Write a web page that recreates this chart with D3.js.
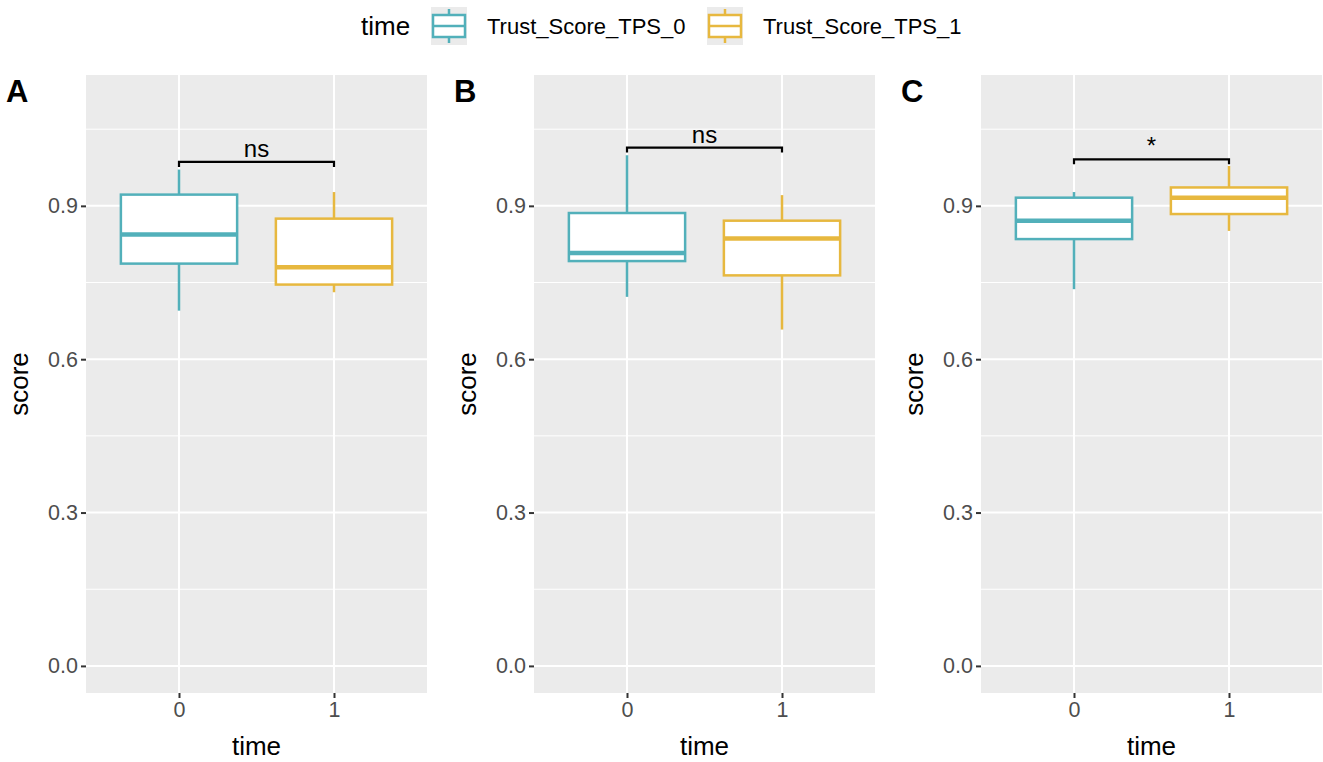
<!DOCTYPE html>
<html>
<head>
<meta charset="utf-8">
<script src="https://cdn.jsdelivr.net/npm/d3@7"></script>
<style>
  body { margin: 0; background: #fff; }
  svg { font-family: "Liberation Sans", Arial, sans-serif; }
</style>
</head>
<body>
<div id="chartContainer"></div>
<script>
// data, one row per panel, [time 0, time 1]
var panels = ['A', 'B', 'C']
var times = ['0', '1']
var seriesNames = ['Trust_Score_TPS_0', 'Trust_Score_TPS_1']
var lowerWhisker = [[0.695, 0.731], [0.722, 0.658], [0.737, 0.851]]
var q1 = [[0.787, 0.746], [0.792, 0.764], [0.835, 0.884]]
var medians = [[0.844, 0.780], [0.808, 0.836], [0.871, 0.916]]
var q3 = [[0.922, 0.875], [0.886, 0.871], [0.916, 0.936]]
var upperWhisker = [[0.971, 0.927], [0.999, 0.921], [0.927, 0.978]]
var sigLabels = ['ns', 'ns', '*']
var bracketY = [0.986, 1.014, 0.991]
var yTicks = [0, 0.3, 0.6, 0.9]
var yMinor = [0.15, 0.45, 0.75, 1.05]

var colors = ['#52b0ba', '#e7b83f']

var width = 1323, height = 762
var svg = d3.select('#chartContainer').append('svg')
    .attr('width', width)
    .attr('height', height)

// plot area for each panel
var panelLeft = [86, 534, 981]
var panelWidth = 341
var plotTop = 75, plotBottom = 693

var yScale = d3.scaleLinear()
    .domain([-0.053, 1.156])
    .range([plotBottom, plotTop])

panels.forEach(function(p, i) {
    var g = svg.append('g').attr('transform', 'translate(' + panelLeft[i] + ',0)')

    var xScale = d3.scalePoint()
        .domain(times)
        .range([0, panelWidth])
        .padding(0.6)
    var boxW = xScale.step() * 0.75

    g.append('rect')
        .attr('x', 0).attr('y', plotTop)
        .attr('width', panelWidth).attr('height', plotBottom - plotTop)
        .attr('fill', '#ebebeb')

    // grid
    g.selectAll('.minor').data(yMinor).enter().append('line')
        .attr('x1', 0).attr('x2', panelWidth)
        .attr('y1', function(d) { return yScale(d) })
        .attr('y2', function(d) { return yScale(d) })
        .attr('stroke', '#fff').attr('stroke-width', 1)
    g.selectAll('.major').data(yTicks).enter().append('line')
        .attr('x1', 0).attr('x2', panelWidth)
        .attr('y1', function(d) { return yScale(d) })
        .attr('y2', function(d) { return yScale(d) })
        .attr('stroke', '#fff').attr('stroke-width', 2)
    g.selectAll('.vgrid').data(times).enter().append('line')
        .attr('x1', function(d) { return xScale(d) })
        .attr('x2', function(d) { return xScale(d) })
        .attr('y1', plotTop).attr('y2', plotBottom)
        .attr('stroke', '#fff').attr('stroke-width', 2)

    // axes
    var yAxis = g.append('g')
        .call(d3.axisLeft(yScale).tickValues(yTicks).tickFormat(d3.format('.1f')).tickSize(5).tickPadding(3))
    var xAxis = g.append('g').attr('transform', 'translate(0,' + plotBottom + ')')
        .call(d3.axisBottom(xScale).tickSize(5).tickPadding(4))
    ;[yAxis, xAxis].forEach(function(a) {
        a.select('.domain').remove()
        a.selectAll('line').attr('stroke', '#333').attr('stroke-width', 2)
        a.selectAll('text').attr('fill', '#4d4d4d').style('font-size', '21.5px')
    })

    g.append('text')
        .attr('x', panelWidth / 2).attr('y', 755)
        .attr('text-anchor', 'middle')
        .style('font-size', '26px')
        .text('time')
    g.append('text')
        .attr('transform', 'translate(' + (-58) + ',' + ((plotTop + plotBottom) / 2) + ') rotate(-90)')
        .attr('text-anchor', 'middle')
        .style('font-size', '26px')
        .text('score')

    // panel tag
    svg.append('text')
        .attr('x', panelLeft[i] - 80).attr('y', 102)
        .style('font-size', '31px').style('font-weight', 'bold')
        .text(p)

    // boxplots
    times.forEach(function(t, j) {
        var cx = xScale(t)
        var col = colors[j]
        g.append('line')
            .attr('x1', cx).attr('x2', cx)
            .attr('y1', yScale(upperWhisker[i][j])).attr('y2', yScale(q3[i][j]))
            .attr('stroke', col).attr('stroke-width', 2.5)
        g.append('line')
            .attr('x1', cx).attr('x2', cx)
            .attr('y1', yScale(q1[i][j])).attr('y2', yScale(lowerWhisker[i][j]))
            .attr('stroke', col).attr('stroke-width', 2.5)
        g.append('rect')
            .attr('x', cx - boxW / 2).attr('y', yScale(q3[i][j]))
            .attr('width', boxW).attr('height', yScale(q1[i][j]) - yScale(q3[i][j]))
            .attr('fill', '#fff').attr('stroke', col).attr('stroke-width', 2.5)
        g.append('line')
            .attr('x1', cx - boxW / 2).attr('x2', cx + boxW / 2)
            .attr('y1', yScale(medians[i][j])).attr('y2', yScale(medians[i][j]))
            .attr('stroke', col).attr('stroke-width', 4.5)
    })

    // significance bracket
    var by = yScale(bracketY[i])
    var x0 = xScale(times[0]), x1 = xScale(times[1])
    g.append('path')
        .attr('d', 'M' + x0 + ',' + (by + 5) + 'V' + by + 'H' + x1 + 'V' + (by + 5))
        .attr('fill', 'none').attr('stroke', '#000').attr('stroke-width', 2.2)
    g.append('text')
        .attr('x', (x0 + x1) / 2).attr('y', by - 5)
        .attr('text-anchor', 'middle')
        .style('font-size', '24px')
        .text(sigLabels[i])
})

// legend
var legend = svg.append('g')
legend.append('text')
    .attr('x', 361).attr('y', 35)
    .style('font-size', '26px')
    .text('time')
var keyX = [431, 707]
seriesNames.forEach(function(s, j) {
    var kx = keyX[j], ky = 7, kw = 36, kh = 38
    legend.append('rect')
        .attr('x', kx).attr('y', ky).attr('width', kw).attr('height', kh)
        .attr('fill', '#ebebeb')
    legend.append('line')
        .attr('x1', kx + kw / 2).attr('x2', kx + kw / 2)
        .attr('y1', ky + 2).attr('y2', ky + kh - 2)
        .attr('stroke', colors[j]).attr('stroke-width', 2.5)
    legend.append('rect')
        .attr('x', kx + 2).attr('y', ky + 8).attr('width', kw - 4).attr('height', kh - 16)
        .attr('fill', '#fff').attr('stroke', colors[j]).attr('stroke-width', 2.5)
    legend.append('line')
        .attr('x1', kx + 2).attr('x2', kx + kw - 2)
        .attr('y1', ky + kh / 2).attr('y2', ky + kh / 2)
        .attr('stroke', colors[j]).attr('stroke-width', 2.5)
    legend.append('text')
        .attr('x', kx + 56).attr('y', 34)
        .style('font-size', '22px')
        .text(s)
})
</script>
</body>
</html>
